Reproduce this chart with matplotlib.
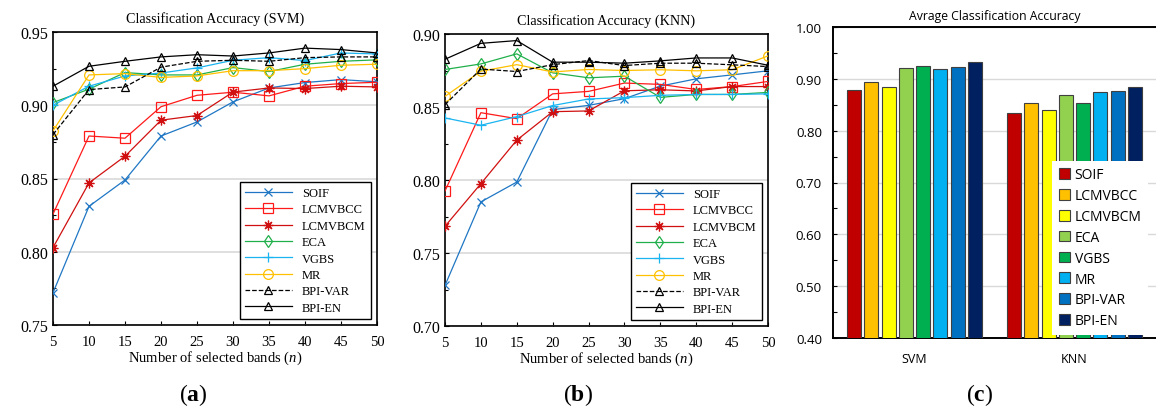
import matplotlib
matplotlib.use("Agg")
import matplotlib.pyplot as plt
import numpy as np

plt.rcParams["mathtext.fontset"] = "custom"
plt.rcParams["mathtext.rm"] = "Liberation Serif"
plt.rcParams["mathtext.it"] = "Liberation Serif:italic"
plt.rcParams["mathtext.bf"] = "Liberation Serif:bold"

n_bands = [5, 10, 15, 20, 25, 30, 35, 40, 45, 50]
methods = ["SOIF", "LCMVBCC", "LCMVBCM", "ECA", "VGBS", "MR", "BPI-VAR", "BPI-EN"]

svm_acc = {
    "SOIF":    [0.772, 0.831, 0.849, 0.879, 0.8886, 0.9023, 0.9118, 0.9155, 0.9175, 0.916],
    "LCMVBCC": [0.8257, 0.879, 0.8775, 0.899, 0.9068, 0.9089, 0.9064, 0.913, 0.9148, 0.9157],
    "LCMVBCM": [0.8028, 0.847, 0.8652, 0.8898, 0.893, 0.909, 0.9118, 0.9114, 0.913, 0.9125],
    "ECA":     [0.9018, 0.911, 0.9223, 0.9207, 0.9207, 0.9257, 0.923, 0.928, 0.930, 0.931],
    "VGBS":    [0.900, 0.913, 0.920, 0.922, 0.9255, 0.9307, 0.9325, 0.9305, 0.9357, 0.935],
    "MR":      [0.8825, 0.9207, 0.9216, 0.919, 0.920, 0.9236, 0.9236, 0.925, 0.9273, 0.928],
    "BPI-VAR": [0.880, 0.9107, 0.9125, 0.926, 0.930, 0.9307, 0.930, 0.9325, 0.933, 0.933],
    "BPI-EN":  [0.913, 0.9266, 0.930, 0.933, 0.9345, 0.9336, 0.9357, 0.939, 0.938, 0.9357],
}

knn_acc = {
    "SOIF":    [0.7278, 0.785, 0.7986, 0.8482, 0.8511, 0.8557, 0.8643, 0.8693, 0.872, 0.8748],
    "LCMVBCC": [0.7925, 0.8461, 0.842, 0.859, 0.8607, 0.8664, 0.8655, 0.862, 0.864, 0.8675],
    "LCMVBCM": [0.7683, 0.7975, 0.8273, 0.8468, 0.8473, 0.8611, 0.8618, 0.861, 0.864, 0.864],
    "ECA":     [0.8757, 0.8795, 0.8864, 0.8734, 0.870, 0.8711, 0.8566, 0.8586, 0.8586, 0.860],
    "VGBS":    [0.8425, 0.8375, 0.8434, 0.851, 0.8555, 0.8564, 0.858, 0.8586, 0.8586, 0.859],
    "MR":      [0.8573, 0.8745, 0.879, 0.874, 0.8757, 0.875, 0.8755, 0.8748, 0.8755, 0.885],
    "BPI-VAR": [0.8516, 0.876, 0.8743, 0.879, 0.8818, 0.8784, 0.880, 0.880, 0.8789, 0.8777],
    "BPI-EN":  [0.8827, 0.8936, 0.8955, 0.8807, 0.8807, 0.880, 0.8816, 0.8836, 0.8836, 0.8786],
}

bar_groups = ["SVM", "KNN"]
avg_svm = [0.879, 0.894, 0.885, 0.921, 0.924, 0.919, 0.922, 0.933]
avg_knn = [0.835, 0.853, 0.840, 0.869, 0.853, 0.875, 0.876, 0.885]

line_styles = {
    "SOIF":    dict(color="#1f77c4", marker="x", ls="-", ms=6),
    "LCMVBCC": dict(color="#ff1a1a", marker="s", ls="-", ms=7),
    "LCMVBCM": dict(color="#d01010", marker=(8, 2, 0), ls="-", ms=7),
    "ECA":     dict(color="#20b04b", marker="d", ls="-", ms=6),
    "VGBS":    dict(color="#1ab4f0", marker="+", ls="-", ms=7),
    "MR":      dict(color="#ffc000", marker="o", ls="-", ms=7),
    "BPI-VAR": dict(color="black", marker="^", ls="--", ms=6),
    "BPI-EN":  dict(color="black", marker="^", ls="-", ms=6),
}
bar_colors = ["#C00000", "#FFC000", "#FFFF00", "#92D050", "#00B050", "#00B0F0", "#0070C0", "#002060"]

W, H = 1156, 410
fig = plt.figure(figsize=(W / 100, H / 100), dpi=100)

def px_axes(l, r, t, b):
    return fig.add_axes([l / W, 1 - b / H, (r - l) / W, (b - t) / H])

serif = "Liberation Serif"

def line_panel(ax, data, ylim, yticks, title):
    for m in methods:
        st = line_styles[m]
        ax.plot(n_bands, data[m], color=st["color"], ls=st["ls"], lw=0.9,
                marker=st["marker"], ms=st["ms"], mfc="none", mec=st["color"],
                mew=0.9, label=m, zorder=3)
    ax.set_xlim(5, 50)
    ax.set_ylim(*ylim)
    ax.set_xticks(n_bands)
    ax.set_yticks(yticks)
    ax.set_yticks(np.arange(ylim[0], ylim[1] + 1e-9, 0.025), minor=True)
    ax.set_yticklabels([f"{v:.2f}" for v in yticks], fontfamily=serif, fontsize=11.5)
    ax.set_xticklabels([str(v) for v in n_bands], fontfamily=serif, fontsize=10.5)
    ax.tick_params(axis="both", which="both", direction="in", length=3, width=0.8)
    ax.tick_params(axis="x", pad=7)
    ax.tick_params(axis="y", which="minor", length=2)
    ax.grid(axis="y", which="major", color="#d9d9d9", lw=1.2, zorder=0)
    for s in ax.spines.values():
        s.set_linewidth(1.2)
    ax.set_title(title, fontfamily=serif, fontsize=10.2, pad=7)
    ax.set_xlabel("Number of selected bands ($n$)", fontfamily=serif, fontsize=10.5, labelpad=1)
    leg = ax.legend(loc="lower right", prop={"family": serif, "size": 9}, frameon=True,
                    fancybox=False, edgecolor="black", framealpha=1, handlelength=3.8,
                    borderpad=0.4, labelspacing=0.35, borderaxespad=0.5)
    leg.get_frame().set_linewidth(1.0)

ax_a = px_axes(53, 377, 33, 326)
line_panel(ax_a, svm_acc, (0.75, 0.95), [0.75, 0.80, 0.85, 0.90, 0.95], "Classification Accuracy (SVM)")

ax_b = px_axes(445, 768, 35, 327)
line_panel(ax_b, knn_acc, (0.70, 0.90), [0.70, 0.75, 0.80, 0.85, 0.90], "Classification Accuracy (KNN)")

# bar panel
ax_c = px_axes(833, 1156, 28, 339)
sans = "Open Sans"
x = np.arange(len(bar_groups))
nb = len(methods)
step = 0.108
width = 0.0875
for i, m in enumerate(methods):
    vals = [avg_svm[i], avg_knn[i]]
    ax_c.bar(x + (i - (nb - 1) / 2) * step, vals, width=width, color=bar_colors[i],
             edgecolor="#404040", lw=0.8, label=m, zorder=3)
ax_c.set_xlim(-0.51, 1.51)
ax_c.set_ylim(0.40, 1.00)
ax_c.set_yticks(np.arange(0.40, 1.001, 0.10))
ax_c.set_yticks(np.arange(0.40, 1.001, 0.05), minor=True)
ax_c.set_yticklabels([f"{v:.2f}" for v in np.arange(0.40, 1.001, 0.10)], fontfamily=sans, fontsize=9.5)
ax_c.set_xticks(x)
ax_c.set_xticklabels(bar_groups, fontfamily=sans, fontsize=9)
ax_c.tick_params(axis="x", length=0, pad=10)
ax_c.tick_params(axis="y", which="both", direction="in", length=3, width=0.8, pad=8)
ax_c.grid(axis="y", which="major", color="#d9d9d9", lw=1.0, zorder=0)
ax_c.spines["right"].set_visible(False)
for s in ["left", "bottom", "top"]:
    ax_c.spines[s].set_linewidth(1.4)
ax_c.set_title("Avrage Classification Accuracy", fontfamily=sans, fontsize=8.8, pad=6)
legc = ax_c.legend(loc="lower right", bbox_to_anchor=(0.985, 0.0), prop={"family": sans, "size": 10},
                   frameon=True, fancybox=False, edgecolor="none", framealpha=1,
                   handlelength=0.8, handleheight=0.8, handletextpad=0.3,
                   labelspacing=0.42, borderpad=0.5, borderaxespad=0.2)

# panel labels
for xc, lab in [(193, "a"), (578, "b"), (980, "c")]:
    fig.text(xc / W, 1 - 395 / H, f"(${{\\mathbf{{{lab}}}}}$)", ha="center", va="center",
             fontsize=17, fontfamily=serif)

fig.savefig("out.png", dpi=100)
